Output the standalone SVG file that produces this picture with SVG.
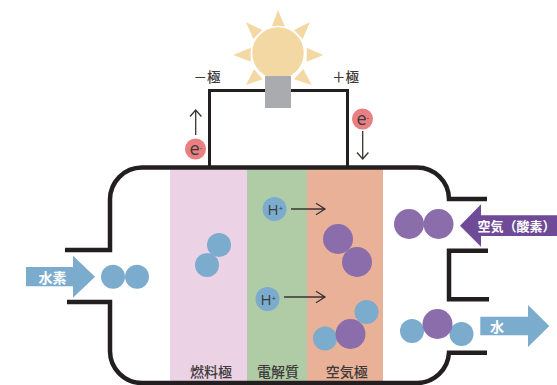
<svg xmlns="http://www.w3.org/2000/svg" width="557" height="385" viewBox="0 0 557 385">
  <style>
    .wall { fill: none; stroke: #231f20; stroke-width: 4.500; }
    .wire { fill: none; stroke: #231f20; stroke-width: 3; }
    .thin { fill: none; stroke: #3a3433; stroke-width: 1.300; }
    .ray { fill: #f4d8a3; }
    .h { fill: #7bacce; }
    .o { fill: #8b6dab; }
    .e { fill: #e97f82; }
    text { font-family: "Noto Sans CJK JP", "Noto Sans", sans-serif; font-weight: 500; }
    .band { font-size: 14px; fill: #3e3a39; text-anchor: middle; }
    .pole { font-size: 13.500px; fill: #3e3a39; }
    .flow { font-size: 14px; fill: #fff; font-weight: 700; }
    .air { font-size: 13px; }
    .sym { font-family: "Open Sans", "Liberation Sans", sans-serif; font-weight: 400; fill: #3e3a39; }
    .big-e { font-size: 18px; }
    .big-h { font-size: 15px; }
    .sup { font-size: 8px; }
  </style>
  <rect width="557" height="385" fill="#fff"/>

  <g id="fuel-electrode">
    <rect x="170" y="168" width="77" height="215" fill="#ebd2e4"/>
    <text class="band" x="211" y="376.500">燃料極</text>
  </g>
  <g id="electrolyte">
    <rect x="247" y="168" width="60" height="215" fill="#b0cca6"/>
    <text class="band" x="278" y="376.500">電解質</text>
  </g>
  <g id="air-electrode">
    <rect x="307" y="168" width="76" height="215" fill="#e9b197"/>
    <text class="band" x="346.700" y="376.500">空気極</text>
  </g>

  <g id="connectors">
    <path class="wire" d="M209.500 168V90.500H347.500V168"/>
    <path class="thin" d="M195.700 135V110M190 116.500L195.700 110L201.400 116.500"/>
    <path class="thin" d="M362.700 131V159M357 152.500L362.700 159L368.400 152.500"/>
    <path class="thin" d="M291 209H325M316 203.300L325 209L316 214.700"/>
    <path class="thin" d="M284 297H325M316 291.300L325 297L316 302.700"/>
  </g>

  <g id="cell-wall">
    <path class="wall" d="M65 250H110V200A32 32 0 0 1 142 167.500H417A32 32 0 0 1 449 199H487"/>
    <path class="wall" d="M67 302H110V351A32 32 0 0 0 142 383H417A32 32 0 0 0 449 352.700H487"/>
    <path class="wall" d="M488 250.700H449V299.300H489"/>
  </g>

  <g id="lamp">
    <polygon class="ray" points="278,10 271.700,26.700 285,26.700"/>
    <polygon class="ray" points="246,22.300 262.300,30 253.300,39"/>
    <polygon class="ray" points="310,22 294,30 302.700,39"/>
    <polygon class="ray" points="233.300,55 250.700,47.700 250.700,61.700"/>
    <polygon class="ray" points="323.300,55 306.700,47.700 306.700,61.700"/>
    <polygon class="ray" points="246,85 254,69.300 262.700,79.300"/>
    <polygon class="ray" points="311.700,85 303.300,69 294,79.300"/>
    <circle cx="278" cy="53" r="26.500" fill="#f4d8a3" stroke="#fff" stroke-width="1.500"/>
    <rect x="265" y="76" width="26" height="32" fill="#a9abae"/>
  </g>

  <g id="negative-pole">
    <text class="pole" x="193.500" y="82">－極</text>
  </g>
  <g id="positive-pole">
    <text class="pole" x="332" y="82">＋極</text>
  </g>

  <g id="electron-left">
    <circle class="e" cx="195.500" cy="149" r="10.500"/>
    <text class="sym big-e" x="189.500" y="155">e</text>
    <text class="sym sup" x="199.500" y="150">-</text>
  </g>
  <g id="electron-right">
    <circle class="e" cx="362.500" cy="119" r="10.500"/>
    <text class="sym big-e" x="356.500" y="125">e</text>
    <text class="sym sup" x="366.500" y="120">-</text>
  </g>

  <g id="hydrogen-inlet">
    <polygon class="h" points="26,267 73,267 73,255.700 95,276.700 73,297.700 73,286.300 26,286.300"/>
    <text class="flow" x="38.500" y="282.500">水素</text>
  </g>
  <g id="hydrogen-molecule-inlet">
    <circle class="h" cx="113" cy="276.700" r="12"/>
    <circle class="h" cx="137" cy="276.700" r="12"/>
  </g>
  <g id="hydrogen-molecule-electrode">
    <circle class="h" cx="219" cy="245" r="12"/>
    <circle class="h" cx="207" cy="265" r="12"/>
  </g>

  <g id="proton-upper">
    <circle class="h" cx="274.500" cy="209" r="12"/>
    <text class="sym big-h" x="267.500" y="214.500">H</text>
    <text class="sym sup" x="278.500" y="210.500">+</text>
  </g>
  <g id="proton-lower">
    <circle class="h" cx="267.500" cy="299" r="12"/>
    <text class="sym big-h" x="260.500" y="304.500">H</text>
    <text class="sym sup" x="271.500" y="300.500">+</text>
  </g>

  <g id="oxygen-molecule-electrode">
    <circle class="o" cx="338" cy="239" r="15"/>
    <circle class="o" cx="357" cy="262" r="15"/>
  </g>
  <g id="water-molecule-electrode">
    <circle class="h" cx="366.500" cy="312" r="12"/>
    <circle class="h" cx="325" cy="338.500" r="12"/>
    <circle class="o" cx="350.500" cy="334" r="15"/>
  </g>

  <g id="air-inlet">
    <polygon points="460,225.700 481,204.300 481,215.300 557,215.300 557,236 481,236 481,246.700" fill="#6f4a97"/>
    <text class="flow air" x="477.500" y="230.500">空気（酸素）</text>
  </g>
  <g id="oxygen-molecule-inlet">
    <circle class="o" cx="409" cy="224" r="15"/>
    <circle class="o" cx="438.500" cy="224" r="15"/>
  </g>

  <g id="water-molecule-outlet">
    <circle class="h" cx="412" cy="331" r="12"/>
    <circle class="h" cx="461.500" cy="334" r="12"/>
    <circle class="o" cx="437.500" cy="324" r="15"/>
  </g>
  <g id="water-outlet">
    <polygon class="h" points="480.300,316.700 528,316.700 528,305 549.300,326 528,347 528,335.300 480.300,335.300"/>
    <text class="flow" x="490" y="331.500">水</text>
  </g>
</svg>
